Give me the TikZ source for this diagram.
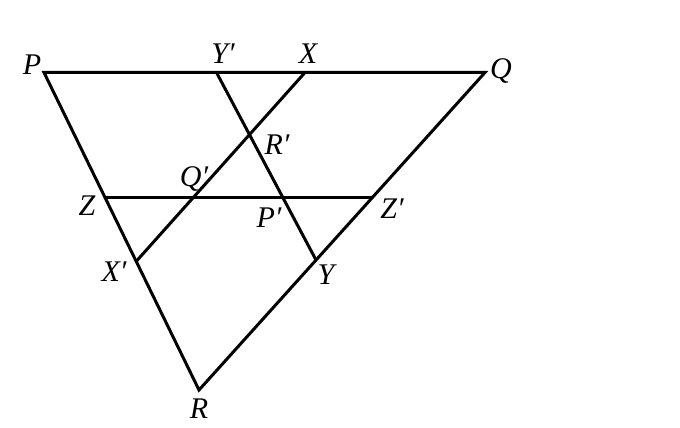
\documentclass[tikz,border=0pt]{standalone}
\usepackage{fontspec}
\setmainfont{Liberation Serif}
\usepackage{tikz}

\begin{document}
\begin{tikzpicture}[x=1pt,y=-1pt,line width=3pt,
  lbl/.style={font=\fontsize{30}{31}\selectfont\itshape, inner sep=0pt}]
\useasboundingbox (0,0) rectangle (680,428);
% triangle corners
\coordinate (P) at (44,72.5);
\coordinate (Q) at (485,72.5);
\coordinate (R) at (199,390);
% points on the sides
\coordinate (Yp) at (216.5,72.5);
\coordinate (X) at (305,72.5);
\coordinate (Z) at (105.5,197.5);
\coordinate (Xp) at (137,260.5);
\coordinate (Zp) at (372.5,197.5);
\coordinate (Y) at (316,260);
% crossings
\coordinate (Rp) at (intersection of X--Xp and Yp--Y);
\coordinate (Qp) at (intersection of X--Xp and Z--Zp);
\coordinate (Pp) at (intersection of Yp--Y and Z--Zp);

\draw[line join=miter] (P) -- (Q) -- (R) -- cycle;
\draw (X) -- (Xp);
\draw (Yp) -- (Y);
\draw (Z) -- (Zp);

\node[lbl] (lP) at (32,65) {P};
\node[lbl] (lQ) at (501,71) {Q};
\node[lbl] (lR) at (199,409) {R};
\node[lbl] (lYp) at (223,54) {Y′};
\node[lbl] (lX) at (308,54) {X};
\node[lbl] (lRp) at (277,145) {R′};
\node[lbl] (lQp) at (194,179) {Q′};
\node[lbl] (lZ) at (87,206) {Z};
\node[lbl] (lPp) at (269,218) {P′};
\node[lbl] (lZp) at (392,209) {Z′};
\node[lbl] (lXp) at (114,272) {X′};
\node[lbl] (lY) at (326,275) {Y};
\end{tikzpicture}
\end{document}
